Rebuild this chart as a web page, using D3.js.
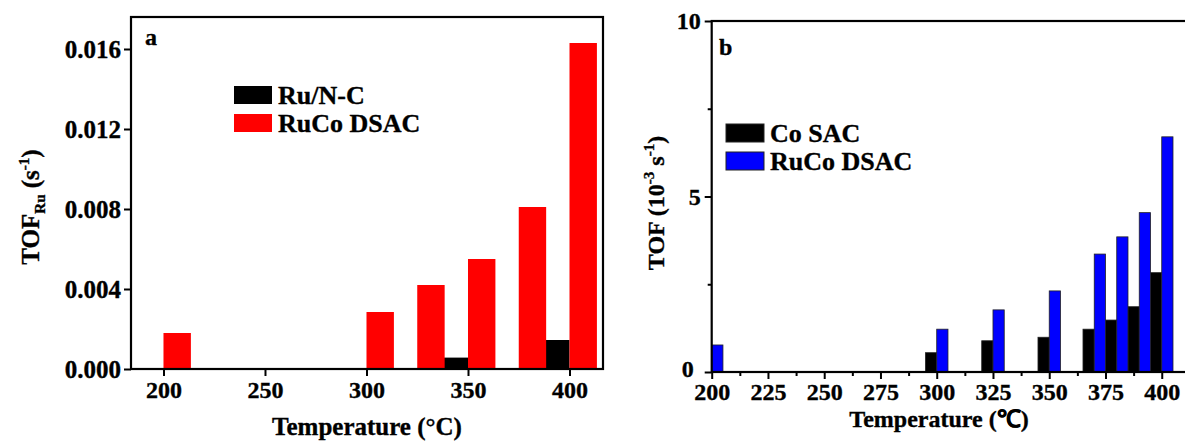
<!DOCTYPE html>
<html>
<head>
<meta charset="utf-8">
<script src="https://cdn.jsdelivr.net/npm/d3@7"></script>
<style>
  html, body { margin: 0; padding: 0; background: #fff; }
  svg { display: block; }
  text { font-family: "Liberation Serif", "Times New Roman", serif; font-weight: bold; fill: #000; stroke: #000; stroke-width: 0.35px; }
</style>
</head>
<body>
<svg id="chart" width="1185" height="446"></svg>
<script>
// Panel a: Ru-based turnover frequency
const tempsA = [200, 300, 325, 350, 375, 400];
const ruNC = [0, 0, 0, 0.00057, 0, 0.00145];
const rucoA = [0.0018, 0.00285, 0.0042, 0.0055, 0.0081, 0.0163];
const yTicksA = [0, 0.004, 0.008, 0.012, 0.016];
const xTicksA = [200, 250, 300, 350, 400];

// Panel b: Co-based turnover frequency (10^-3 s^-1)
const tempsB = [200, 300, 325, 350, 370, 380, 390, 400];
const coSAC = [0, 0.55, 0.89, 0.99, 1.22, 1.48, 1.86, 2.83];
const rucoB = [0.77, 1.22, 1.77, 2.31, 3.36, 3.85, 4.54, 6.70];
const yTicksB = [0, 5, 10];
const yMinorB = [2.5, 7.5];
const xTicksB = [200, 225, 250, 275, 300, 325, 350, 375, 400];
const xMinorB = [212.5, 237.5, 262.5, 287.5, 312.5, 337.5, 362.5, 387.5];

const svg = d3.select("#chart");

function styleAxis(g, fontSize) {
  g.select(".domain").remove();
  g.selectAll(".tick line").attr("stroke", "#000").attr("stroke-width", 2);
  g.selectAll(".tick text")
    .attr("font-family", "Liberation Serif, Times New Roman, serif")
    .attr("font-weight", "bold")
    .attr("font-size", fontSize)
    .attr("fill", "#000");
}

function legend(g, x, y, items) {
  items.forEach((it, i) => {
    const yy = y + i * 28;
    g.append("rect").attr("x", x).attr("y", yy).attr("width", 38).attr("height", 18)
      .attr("fill", it.color).attr("stroke", it.stroke || "none").attr("stroke-width", 1);
    g.append("text").attr("x", x + 44).attr("y", yy + 17.5)
      .attr("font-size", 26).text(it.label);
  });
}

// ---------- Panel a ----------
{
  const L = 131, R = 603, T = 17, B = 369;
  const x = d3.scaleLinear().domain([184, 416.5]).range([L, R]);
  const y = d3.scaleLinear().domain([0, 0.0176]).range([B, T]);
  const bw = 13.5;
  const g = svg.append("g");

  g.selectAll("rect.k").data(tempsA.map((t, i) => ({t, v: ruNC[i]})).filter(d => d.v > 0))
    .join("rect").attr("class", "k")
    .attr("x", d => x(d.t - bw)).attr("width", d => x(d.t) - x(d.t - bw))
    .attr("y", d => y(d.v)).attr("height", d => y(0) - y(d.v))
    .attr("fill", "#000");
  g.selectAll("rect.r").data(tempsA.map((t, i) => ({t, v: rucoA[i]})))
    .join("rect").attr("class", "r")
    .attr("x", d => x(d.t)).attr("width", d => x(d.t + bw) - x(d.t))
    .attr("y", d => y(d.v)).attr("height", d => y(0) - y(d.v))
    .attr("fill", "#ff0000");

  g.append("rect").attr("x", L).attr("y", T).attr("width", R - L).attr("height", B - T)
    .attr("fill", "none").attr("stroke", "#000").attr("stroke-width", 2.2);

  const ax = g.append("g").attr("transform", `translate(0,${B})`)
    .call(d3.axisBottom(x).tickValues(xTicksA).tickSize(7).tickPadding(5).tickFormat(d3.format("d")));
  styleAxis(ax, 24);
  const ay = g.append("g").attr("transform", `translate(${L},0)`)
    .call(d3.axisLeft(y).tickValues(yTicksA).tickSize(7).tickPadding(3).tickFormat(d3.format(".3f")));
  styleAxis(ay, 25);

  g.append("text").attr("x", 145).attr("y", 45).attr("font-size", 24).text("a");

  legend(g, 234, 86, [
    {label: "Ru/N-C", color: "#000"},
    {label: "RuCo DSAC", color: "#ff0000"}
  ]);

  g.append("text").attr("x", 367).attr("y", 435).attr("text-anchor", "middle")
    .attr("font-size", 25).text("Temperature (°C)");

  const yt = g.append("text").attr("transform", "translate(39,207) rotate(-90)")
    .attr("text-anchor", "middle").attr("font-size", 25);
  yt.append("tspan").text("TOF");
  yt.append("tspan").attr("font-size", 15).attr("dy", 6).text("Ru");
  yt.append("tspan").attr("dy", -6).text(" (s");
  yt.append("tspan").attr("font-size", 15).attr("dy", -10).text("-1");
  yt.append("tspan").attr("dy", 10).text(")");
}

// ---------- Panel b ----------
{
  const L = 711.7, R = 1191, T = 21, B = 372;
  const x = d3.scaleLinear().domain([200, 413]).range([L, R]);
  const y = d3.scaleLinear().domain([0, 10]).range([B, T]);
  const bw = 5;
  const g = svg.append("g");

  g.selectAll("rect.k").data(tempsB.map((t, i) => ({t, v: coSAC[i]})).filter(d => d.v > 0))
    .join("rect").attr("class", "k")
    .attr("x", d => x(d.t - bw)).attr("width", d => x(d.t) - x(d.t - bw))
    .attr("y", d => y(d.v)).attr("height", d => y(0) - y(d.v))
    .attr("fill", "#000").attr("stroke", "#222").attr("stroke-width", 0.8);
  g.selectAll("rect.b").data(tempsB.map((t, i) => ({t, v: rucoB[i]})))
    .join("rect").attr("class", "b")
    .attr("x", d => x(d.t)).attr("width", d => x(d.t + bw) - x(d.t))
    .attr("y", d => y(d.v)).attr("height", d => y(0) - y(d.v))
    .attr("fill", "#0000ff").attr("stroke", "#222").attr("stroke-width", 0.8);

  g.append("rect").attr("x", L).attr("y", T).attr("width", R - L).attr("height", B - T)
    .attr("fill", "none").attr("stroke", "#000").attr("stroke-width", 2.2);

  const ax = g.append("g").attr("transform", `translate(0,${B})`)
    .call(d3.axisBottom(x).tickValues(xTicksB).tickSize(7).tickPadding(4).tickFormat(d3.format("d")));
  styleAxis(ax, 24);
  const axm = g.append("g").attr("transform", `translate(0,${B})`)
    .call(d3.axisBottom(x).tickValues(xMinorB).tickSize(4).tickFormat(""));
  styleAxis(axm, 1);
  const ay = g.append("g").attr("transform", `translate(${L},0)`)
    .call(d3.axisLeft(y).tickValues(yTicksB).tickSize(7).tickPadding(4).tickFormat(d3.format("d")));
  styleAxis(ay, 24);
  // the zero label sits just left of the first temperature label
  ay.selectAll(".tick text").filter(d => d === 0).attr("dx", -7).attr("dy", "0.2em");
  const aym = g.append("g").attr("transform", `translate(${L},0)`)
    .call(d3.axisLeft(y).tickValues(yMinorB).tickSize(4).tickFormat(""));
  styleAxis(aym, 1);

  g.append("text").attr("x", 719).attr("y", 55).attr("font-size", 24).text("b");

  legend(g, 726, 124, [
    {label: "Co SAC", color: "#000", stroke: "#222"},
    {label: "RuCo DSAC", color: "#0000ff", stroke: "#222"}
  ]);

  g.append("text").attr("x", 939).attr("y", 427).attr("text-anchor", "middle")
    .attr("font-size", 24).text("Temperature (℃)");

  const yt = g.append("text").attr("transform", "translate(664,203) rotate(-90)")
    .attr("text-anchor", "middle").attr("font-size", 24);
  yt.append("tspan").text("TOF (10");
  yt.append("tspan").attr("font-size", 15).attr("dy", -10).text("-3");
  yt.append("tspan").attr("dy", 10).text(" s");
  yt.append("tspan").attr("font-size", 15).attr("dy", -10).text("-1");
  yt.append("tspan").attr("dy", 10).text(")");
}
</script>
</body>
</html>
